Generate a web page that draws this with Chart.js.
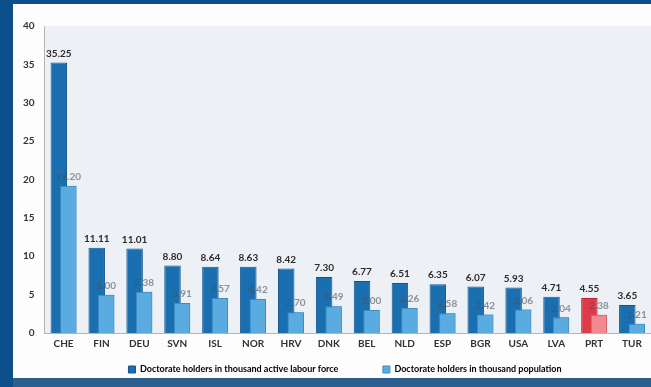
<!DOCTYPE html>
<html>

<head>
    <meta charset="utf-8">
    <title>Doctorate holders</title>
    <style>
        html, body { margin: 0; padding: 0; }
        body { width: 651px; height: 387px; background: #0d4f8a; overflow: hidden; position: relative; }
        #frame { position: absolute; left: 13px; top: 4px; width: 638px; height: 374px; background: #fdfdfd; overflow: hidden; }
        #bottom { position: absolute; left: 13px; top: 378px; width: 638px; height: 9px; background: #2a5f8f; }
    </style>
</head>

<body>
    <div id="frame"><canvas id="myChart" width="638" height="380"></canvas></div>
    <div id="bottom"></div>

    <script src="https://cdn.jsdelivr.net/npm/chart.js"></script>

    <script>
        // Data
        const countries = ['CHE', 'FIN', 'DEU', 'SVN', 'ISL', 'NOR', 'HRV', 'DNK', 'BEL', 'NLD', 'ESP', 'BGR', 'USA', 'LVA', 'PRT', 'TUR'];
        const labourForce = [35.25, 11.11, 11.01, 8.80, 8.64, 8.63, 8.42, 7.30, 6.77, 6.51, 6.35, 6.07, 5.93, 4.71, 4.55, 3.65];
        const population = [19.20, 5.00, 5.38, 3.91, 4.57, 4.42, 2.70, 3.49, 3.00, 3.26, 2.58, 2.42, 3.06, 2.04, 2.38, 1.21];
        const yTicks = [0, 5, 10, 15, 20, 25, 30, 35, 40];

        const seriesNames = ['Doctorate holders in thousand active labour force', 'Doctorate holders in thousand population'];
        const highlight = 'PRT';

        const darkFill = countries.map(c => c == highlight ? '#e03a48' : '#1a6fb0');
        const darkEdge = countries.map(c => c == highlight ? '#b82232' : '#11558c');
        const lightFill = countries.map(c => c == highlight ? '#f08a90' : '#5aabdf');
        const lightEdge = countries.map(c => c == highlight ? '#d06068' : '#3d8cc4');

        const font = '"Lato", sans-serif';

        // plot background
        const plotBg = {
            id: 'plotBg',
            afterLayout(chart) {
                // nudge the legend a little to the right, like the slide
                chart.legend.left += 11;
                chart.legend.right += 11;
            },
            beforeDraw(chart) {
                const { ctx, chartArea: a } = chart;
                ctx.save();
                ctx.fillStyle = '#edf1f6';
                ctx.fillRect(a.left, a.top, a.right - a.left, a.bottom - a.top);
                ctx.restore();
            }
        };

        // light bars overlap the dark ones, so paint them again on top, then the numbers
        const valueLabels = {
            id: 'valueLabels',
            afterDatasetsDraw(chart) {
                const ctx = chart.ctx;
                const a = chart.chartArea;
                ctx.save();
                ctx.beginPath();
                ctx.rect(a.left, a.top, a.right - a.left, a.bottom - a.top);
                ctx.clip();
                chart.getDatasetMeta(1).controller.draw();
                ctx.restore();

                ctx.save();
                ctx.font = 'bold 10px ' + font;
                ctx.textAlign = 'center';
                ctx.textBaseline = 'bottom';
                chart.data.datasets.forEach((ds, i) => {
                    const meta = chart.getDatasetMeta(i);
                    ctx.fillStyle = i == 0 ? '#2b2b2b' : 'rgba(70,80,95,0.6)';
                    meta.data.forEach((bar, j) => {
                        ctx.fillText(ds.data[j].toFixed(2), bar.x, bar.y - 4);
                    });
                });
                ctx.restore();
            }
        };

        const config = {
            type: 'bar',
            data: {
                labels: countries,
                datasets: [{
                    label: seriesNames[0],
                    data: labourForce,
                    backgroundColor: darkFill,
                    borderColor: darkEdge,
                    borderWidth: 1,
                    categoryPercentage: 0.5,
                    barPercentage: 1.74
                }, {
                    label: seriesNames[1],
                    data: population,
                    backgroundColor: lightFill,
                    borderColor: lightEdge,
                    borderWidth: 1,
                    categoryPercentage: 0.5,
                    barPercentage: 1.74
                }]
            },
            options: {
                responsive: false,
                animation: false,
                layout: { padding: { left: 4, right: 0, top: 22, bottom: 0 } },
                plugins: {
                    tooltip: { enabled: false },
                    legend: {
                        position: 'bottom',
                        labels: {
                            boxWidth: 7,
                            boxHeight: 7,
                            padding: 4,
                            color: '#333',
                            font: { family: font, size: 9, weight: 'bold' },
                            generateLabels(chart) {
                                return chart.data.datasets.map((ds, i) => ({
                                    text: i == 0 ? ds.label + '\u2003\u2003\u2003\u2003\u2003\u2003' : ds.label,
                                    fillStyle: i == 0 ? '#1a6fb0' : '#5aabdf',
                                    strokeStyle: i == 0 ? '#11558c' : '#3d8cc4',
                                    lineWidth: 1,
                                    datasetIndex: i
                                }));
                            }
                        }
                    }
                },
                scales: {
                    x: {
                        afterFit(axis) { axis.height += 10; },
                        grid: { display: false, drawTicks: true, tickLength: 4 },
                        border: { color: '#b5b5b5' },
                        ticks: {
                            color: '#333',
                            padding: 1,
                            font: { family: font, size: 10, weight: 'bold' }
                        }
                    },
                    y: {
                        min: 0,
                        max: 40,
                        afterBuildTicks(axis) { axis.ticks = yTicks.map(v => ({ value: v })); },
                        grid: { display: false, drawTicks: true, tickLength: 4 },
                        border: { color: '#b5b5b5' },
                        ticks: {
                            color: '#333',
                            padding: 6,
                            font: { family: font, size: 10, weight: 'bold' }
                        }
                    }
                }
            },
            plugins: [plotBg, valueLabels]
        };

        const myChart = new Chart(document.getElementById('myChart'), config);
    </script>

</body>

</html>
